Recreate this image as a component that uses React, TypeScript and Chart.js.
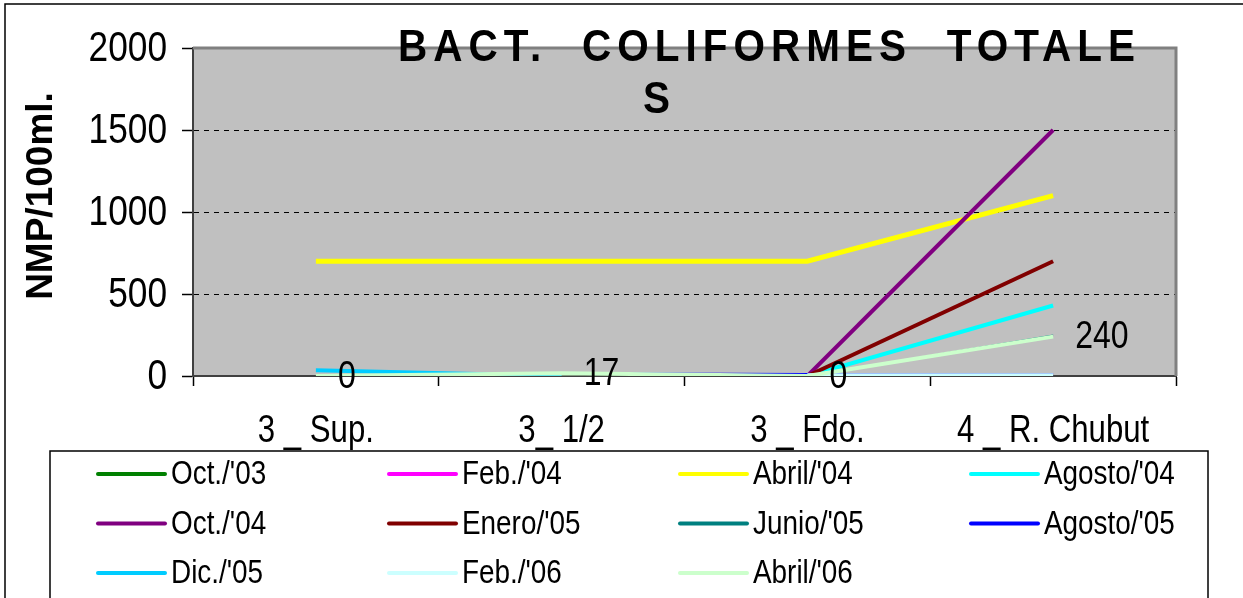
import React, { useEffect, useRef } from "react";
import { Chart, registerables } from "chart.js";

Chart.register(...registerables);

// ---- data ----
const categories = ["3 _ Sup.", "3_ 1/2", "3 _ Fdo.", "4 _ R. Chubut"];
const seriesNames = [
  "Oct./'03", "Feb./'04", "Abril/'04", "Agosto/'04",
  "Oct./'04", "Enero/'05", "Junio/'05", "Agosto/'05",
  "Dic./'05", "Feb./'06", "Abril/'06",
];
const seriesColors = [
  "#008000", "#FF00FF", "#FFFF00", "#00FFFF",
  "#800080", "#800000", "#008080", "#0000FF",
  "#00CCFF", "#CCFFFF", "#CCFFCC",
];
const seriesWidths = [4, 4, 5, 4, 4, 4, 1, 2, 4, 4, 4];

const oct03 = [null, null, null, null];
const feb04 = [null, null, null, null];
const abril04 = [700, 700, 700, 1100];
const agosto04 = [null, null, 0, 430];
const oct04 = [null, null, 0, 1500];
const enero05 = [null, null, 0, 700];
const junio05 = [null, null, 0, 250];
const agosto05 = [null, 17, 12, 10];
const dic05 = [35, 0, null, null];
const feb06 = [null, null, 5, 5];
const abril06 = [0, 17, 0, 240];

const seriesValues = [
  oct03, feb04, abril04, agosto04, oct04, enero05,
  junio05, agosto05, dic05, feb06, abril06,
];
const labelledSeries = 10; // Abril/'06 carries value labels

const yMin = 0;
const yMax = 2000;
const yStep = 500;
const yTickLabels = ["0", "500", "1000", "1500", "2000"];

const titleLine1 = "BACT.  COLIFORMES  TOTALE";
const titleLine2 = "S";
const yTitle = "NMP/100ml.";

const FONT = '"Liberation Sans", Arial, sans-serif';
const SX = 0.82; // horizontal condensing of the reference's text

function narrowText(ctx: any, text: string, x: number, y: number, size: number, opts: any = {}) {
  ctx.save();
  ctx.font = `${opts.bold ? "bold " : ""}${size}px ${FONT}`;
  ctx.textAlign = opts.align || "left";
  ctx.textBaseline = opts.baseline || "middle";
  ctx.fillStyle = opts.color || "#000";
  if (opts.spacing) ctx.letterSpacing = `${opts.spacing}px`;
  ctx.translate(x, y);
  ctx.scale(opts.sx || SX, 1);
  ctx.fillText(text, 0, 0);
  ctx.restore();
}

const decor = {
  id: "decor",
  beforeDraw(chart: any) {
    const { ctx, chartArea: a } = chart;
    ctx.save();
    ctx.fillStyle = "#C0C0C0";
    ctx.fillRect(a.left, a.top, a.right - a.left, a.bottom - a.top);
    ctx.restore();
  },
  afterDatasetsDraw(chart: any) {
    const { ctx } = chart;
    const meta = chart.getDatasetMeta(labelledSeries);
    const vals = seriesValues[labelledSeries];
    meta.data.forEach((pt: any, i: number) => {
      if (vals[i] == null) return;
      narrowText(ctx, String(vals[i]), pt.x + 22, pt.y + 1, 39);
    });
  },
  afterDraw(chart: any) {
    const { ctx, chartArea: a } = chart;
    const xs = chart.scales.x;
    const ys = chart.scales.y;
    ctx.save();
    // plot top/right border
    ctx.strokeStyle = "#808080";
    ctx.lineWidth = 3;
    ctx.beginPath();
    ctx.moveTo(a.left, a.top);
    ctx.lineTo(a.right, a.top);
    ctx.lineTo(a.right, a.bottom);
    ctx.stroke();
    ctx.restore();

    // y tick labels
    yTickLabels.forEach((t) => {
      const v = Number(t);
      narrowText(ctx, t, a.left - 26, ys.getPixelForValue(v) + 1, 43, { align: "right" });
    });
    // x category labels
    categories.forEach((c, i) => {
      narrowText(ctx, c, xs.getPixelForValue(i), a.bottom + 56, 38, { align: "center" });
    });

    // title, spread to fit the reference width
    const tsx = 0.92;
    ctx.save();
    ctx.font = `bold 44px ${FONT}`;
    const w = ctx.measureText(titleLine1).width * tsx;
    ctx.restore();
    const spacing = (737 - w) / (titleLine1.length - 1) / tsx;
    narrowText(ctx, titleLine1, 398, 61, 44, { bold: true, baseline: "alphabetic", spacing, sx: tsx });
    narrowText(ctx, titleLine2, 643, 113, 44, { bold: true, baseline: "alphabetic", sx: tsx });

    // y title
    ctx.save();
    ctx.translate(52, 196);
    ctx.rotate(-Math.PI / 2);
    ctx.font = `bold 37px ${FONT}`;
    ctx.fillStyle = "#000";
    ctx.textAlign = "center";
    ctx.textBaseline = "alphabetic";
    ctx.fillText(yTitle, 0, 0);
    ctx.restore();

    // legend box
    ctx.save();
    ctx.strokeStyle = "#000";
    ctx.lineWidth = 1.5;
    ctx.strokeRect(50, 451, 1158, 200);
    ctx.restore();

    // legend items
    chart.data.datasets.forEach((ds: any, i: number) => {
      const col = i % 4;
      const row = Math.floor(i / 4);
      const x0 = 98 + col * 291;
      const y = 474 + row * 49.5;
      ctx.save();
      ctx.strokeStyle = ds.borderColor;
      ctx.lineWidth = 4;
      ctx.lineCap = "round";
      ctx.beginPath();
      ctx.moveTo(x0, y);
      ctx.lineTo(x0 + 67, y);
      ctx.stroke();
      ctx.restore();
      narrowText(ctx, ds.label, x0 + 73, y + 1, 34);
    });

    // outer frame
    ctx.save();
    ctx.strokeStyle = "#000";
    ctx.lineWidth = 1.5;
    ctx.beginPath();
    ctx.moveTo(5, 598);
    ctx.lineTo(5, 4);
    ctx.lineTo(1243, 4);
    ctx.stroke();
    ctx.restore();
  },
};

export default function App() {
  const ref = useRef<HTMLCanvasElement | null>(null);

  useEffect(() => {
    if (!ref.current) return;
    const n = seriesNames.length;
    const chart = new Chart(ref.current, {
      type: "line",
      data: {
        labels: categories,
        datasets: seriesNames.map((name, i) => ({
          label: name,
          data: seriesValues[i],
          borderColor: seriesColors[i],
          backgroundColor: seriesColors[i],
          borderWidth: seriesWidths[i],
          pointRadius: 0,
          pointHoverRadius: 0,
          tension: 0,
          fill: false,
          spanGaps: false,
          order: n - i,
        })),
      },
      options: {
        responsive: false,
        animation: false,
        events: [],
        layout: { padding: { left: 0, top: 48, right: 67, bottom: 0 } },
        plugins: {
          legend: { display: false },
          title: { display: false },
          tooltip: { enabled: false },
        },
        scales: {
          x: {
            offset: true,
            afterFit: (s: any) => { s.height = 222; },
            grid: {
              offset: true,
              drawOnChartArea: false,
              drawTicks: true,
              tickLength: 10,
              tickColor: "#000",
              tickWidth: 1.5,
            },
            border: { display: true, color: "#404040", width: 2 },
            ticks: { display: false, autoSkip: false, maxRotation: 0 },
          },
          y: {
            min: yMin,
            max: yMax,
            afterFit: (s: any) => { s.width = 193; },
            grid: {
              color: (c: any) =>
                c.tick && (c.tick.value === yMin || c.tick.value === yMax) ? "rgba(0,0,0,0)" : "#000",
              lineWidth: 1,
              tickLength: 11,
              tickColor: "#000",
              tickWidth: 1.5,
              tickBorderDash: [],
            },
            border: { display: true, color: "#404040", width: 2, dash: [5, 5] },
            ticks: { display: false, stepSize: yStep },
          },
        },
      },
      plugins: [decor],
    });
    return () => chart.destroy();
  }, []);

  return (
    <div style={{ position: "absolute", left: 0, top: 0, width: 1243, height: 598, background: "#fff", overflow: "hidden" }}>
      <canvas ref={ref} width={1243} height={598} style={{ display: "block", width: 1243, height: 598 }} />
    </div>
  );
}
